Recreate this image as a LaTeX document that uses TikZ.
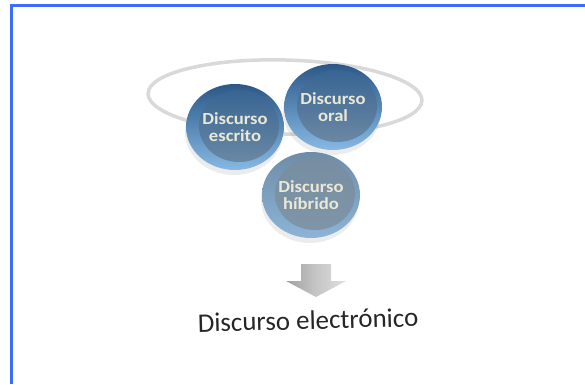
\documentclass[tikz,border=0pt]{standalone}
\usepackage{fontspec}
\setmainfont{Carlito}
\newfontfamily\discfont{Carlito}[FakeStretch=1.1]
\usetikzlibrary{shapes.geometric,shadows}
\definecolor{framecol}{RGB}{60,107,255}
\definecolor{cream}{RGB}{234,232,214}
\definecolor{bluetop}{RGB}{44,88,136}
\definecolor{bluebot}{RGB}{135,185,228}
\definecolor{bluein}{RGB}{52,98,146}
\definecolor{blueinbot}{RGB}{112,140,165}
\definecolor{greytop}{RGB}{110,140,168}
\definecolor{greybot}{RGB}{140,180,215}
\definecolor{greyin}{RGB}{118,140,160}
\definecolor{greyinbot}{RGB}{128,150,168}
\begin{document}
\begin{tikzpicture}[x=1bp,y=-1bp,
  disc/.style n args={4}{ellipse,minimum width=98bp,minimum height=86bp,
    inner sep=0pt,align=center,text=cream,
    font=\discfont\bfseries\fontsize{17}{17}\selectfont,
    top color=#1,bottom color=#2,
    drop shadow={shadow xshift=-1bp,shadow yshift=-5bp,opacity=0.15,fill=gray},
    path picture={\shade[top color=#3,bottom color=#4]
      ([xshift=4bp,yshift=1bp]path picture bounding box.center)
      ellipse [x radius=40bp,y radius=36bp];}},
  ring/.style={draw=gray!30,line width=3.5bp}]
\useasboundingbox (0,0) rectangle (585,384);
\draw[framecol,line width=3bp] (11.5,384) |- (585,5.5);
% ring behind the discs
\draw[ring] (285,97) ellipse [x radius=137,y radius=37,rotate=-1.5];
\node[disc={bluetop}{bluebot}{bluein}{blueinbot}] (oral) at (333,107) {Discurso\\oral};
\node[disc={bluetop}{bluebot}{bluein}{blueinbot}] (escrito) at (235,127) {Discurso\\escrito};
\node[disc={greytop}{greybot}{greyin}{greyinbot}] (hibrido) at (311,195) {Discurso\\híbrido};
% arrow
\shade[left color=gray!75,right color=gray!25,middle color=gray!45]
  (301,264) -- (331,264) -- (331,281) -- (346,281) -- (316,297)
  -- (286,281) -- (301,281) -- cycle;
\node[rotate=1.5,text=black!85,font=\fontsize{27}{30}\selectfont]
  (electronico) at (308,320) {Discurso electrónico};
\end{tikzpicture}
\end{document}
